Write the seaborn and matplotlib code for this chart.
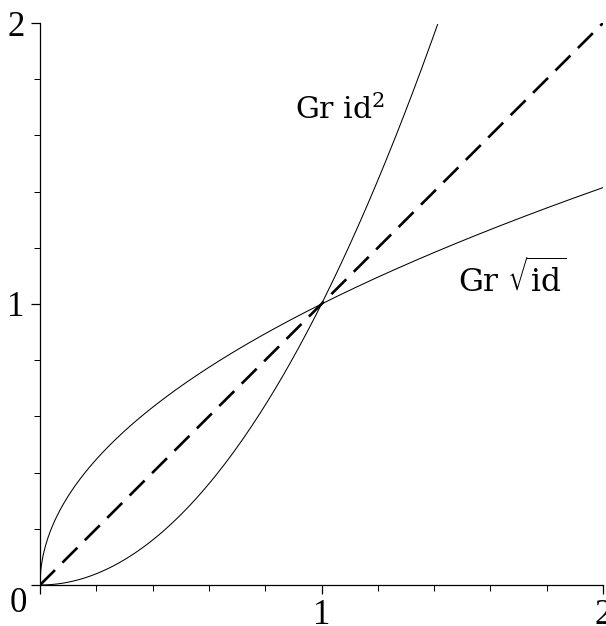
import numpy as np
import pandas as pd
import seaborn as sns
import matplotlib.pyplot as plt
from matplotlib.ticker import MultipleLocator

# graphs of id^2, id and sqrt(id) on [0, 2]
x_grid = np.linspace(0, 2, 801)
sq_vals = x_grid ** 2
id_vals = x_grid
sqrt_vals = np.sqrt(x_grid)

tick_pos = [0, 1, 2]
tick_labels = ["", "1", "2"]


def work():
    sns.set_theme(style="white")
    plt.rcParams['font.family'] = ['Liberation Serif', 'DejaVu Serif']
    plt.rcParams['mathtext.fontset'] = 'dejavuserif'
    plt.rcParams['text.color'] = 'black'

    fig = plt.figure(figsize=(6.06, 6.26), dpi=100)
    ax = fig.add_axes([40 / 606, 41 / 626, 563 / 606, 562 / 626])

    df = pd.DataFrame({"x": x_grid, "sq": sq_vals, "id": id_vals, "sqrt": sqrt_vals})
    df_sq = df[df["sq"] <= 2.0]
    sns.lineplot(x="x", y="sq", data=df_sq, ax=ax, color="black", lw=0.75)
    sns.lineplot(x="x", y="sqrt", data=df, ax=ax, color="black", lw=0.75)
    sns.lineplot(x="x", y="id", data=df, ax=ax, color="black", lw=1.9,
                 dashes=False, linestyle=(0, (8, 4)))

    ax.set_xlim(0, 2)
    ax.set_ylim(0, 2)
    ax.set_xlabel("")
    ax.set_ylabel("")
    for side in ["top", "right"]:
        ax.spines[side].set_visible(False)
    for side in ["left", "bottom"]:
        ax.spines[side].set_color("black")
        ax.spines[side].set_linewidth(0.9)

    ax.set_xticks(tick_pos)
    ax.set_xticklabels(tick_labels)
    ax.set_yticks(tick_pos)
    ax.set_yticklabels(tick_labels)
    ax.xaxis.set_minor_locator(MultipleLocator(0.2))
    ax.yaxis.set_minor_locator(MultipleLocator(0.2))
    ax.tick_params(which="major", direction="out", length=6.5, width=0.9,
                   color="black", labelsize=25, labelcolor="black",
                   bottom=True, left=True)
    ax.tick_params(which="minor", direction="out", length=4, width=0.7,
                   color="black", bottom=True, left=True)
    ax.tick_params(axis="x", pad=3.5)
    ax.tick_params(axis="y", pad=4.5)

    # origin label sits below-left of the corner
    ax.text(-0.078, -0.066, "0", fontsize=25, ha="center", va="center",
            color="black", clip_on=False)

    lab_font = ['DejaVu Serif']
    ax.text(1.066, 1.69, r"Gr id$^{2}$", fontsize=21.5, ha="center",
            va="center", family=lab_font, color="black")
    ax.text(1.677, 1.085, r"Gr $\sqrt{\mathrm{id}}$", fontsize=22.5, ha="center",
            va="center", family=lab_font, color="black")

    plt.savefig("out.png", dpi=100)
    plt.close('all')


if __name__ == '__main__':
    work()
